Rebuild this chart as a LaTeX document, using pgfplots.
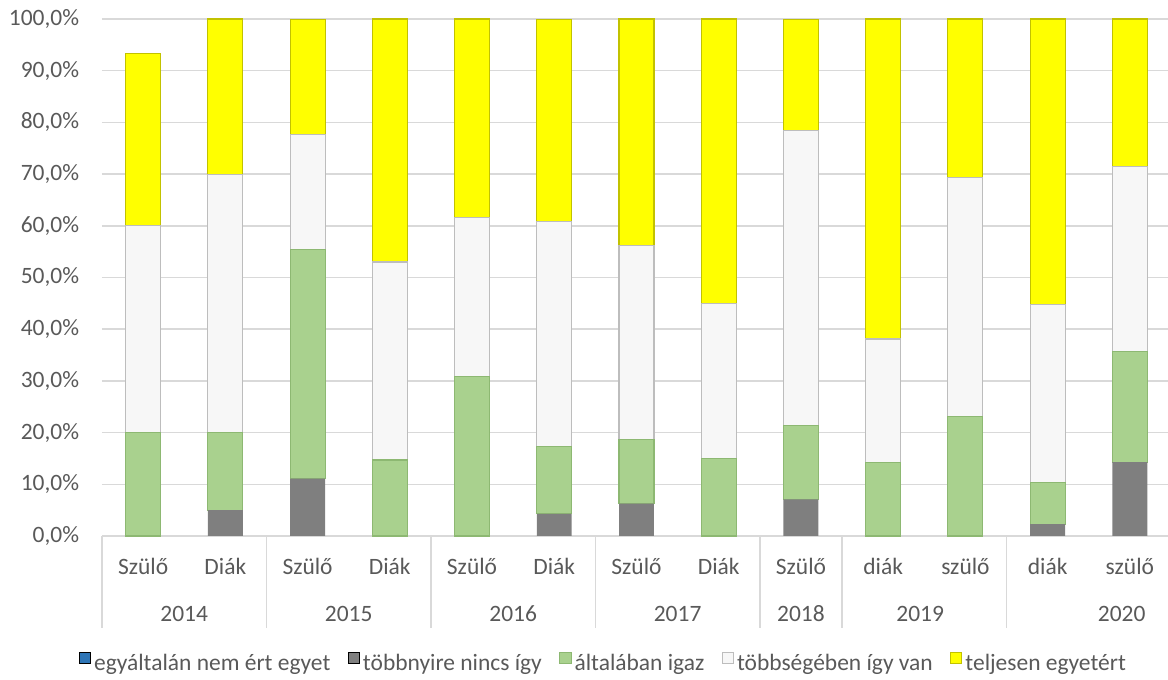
\documentclass[border=0pt]{standalone}
\usepackage{fontspec}
\setmainfont{Carlito}
\usepackage{pgfplots}
\pgfplotsset{compat=1.18}
\usepackage{pgfplotstable}

\definecolor{txt}{HTML}{595959}
\definecolor{gridc}{HTML}{D9D9D9}
\definecolor{cblue}{HTML}{2E75B6}
\definecolor{cgray}{HTML}{7F7F7F}
\definecolor{cgreen}{HTML}{A9D18E}
\definecolor{cgreenE}{HTML}{8DB872}
\definecolor{cwhite}{HTML}{F7F7F7}
\definecolor{cwhiteE}{HTML}{BDBDBD}
\definecolor{cyellow}{HTML}{FFFF00}
\definecolor{cyellowE}{HTML}{C2C200}

% shares in percent, bar position 0..12
\pgfplotstableread{
x  nem  nincs  altal  tobb  telj
0  0    0      20.0   40.0  33.3
1  0    5.0    15.0   50.0  30.0
2  0    11.1   44.4   22.2  22.2
3  0    0      14.7   38.3  47.0
4  0    0      30.8   30.8  38.4
5  0    4.3    13.0   43.5  39.1
6  0    6.25   12.5   37.5  43.75
7  0    0      15.0   30.0  55.0
8  0    7.1    14.3   57.1  21.4
9  0    0      14.3   23.8  61.9
10 0    0      23.1   46.2  30.7
11 0    2.3    8.0    34.5  55.2
12 0    14.3   21.4   35.7  28.6
}\data

\newcommand{\lblfont}{\fontsize{17.6}{21}\selectfont}

\begin{document}
\begin{tikzpicture}
\begin{axis}[
    scale only axis,
    width=801.75pt, height=387.75pt,
    xmin=-0.5, xmax=12.5,
    ymin=0, ymax=100,
    ybar stacked,
    bar width=0.425,
    clip=false,
    axis x line*=bottom,
    axis y line*=left,
    x axis line style={gridc, line width=1.1pt},
    y axis line style={draw=none},
    xtick={0,...,12},
    xticklabels={Szülő,Diák,Szülő,Diák,Szülő,Diák,Szülő,Diák,Szülő,diák,szülő,diák,szülő},
    ytick={0,10,...,100},
    yticklabels={{0,0\%},{10,0\%},{20,0\%},{30,0\%},{40,0\%},{50,0\%},{60,0\%},{70,0\%},{80,0\%},{90,0\%},{100,0\%}},
    major tick length=0pt,
    ymajorgrids,
    grid style={gridc, line width=1.1pt},
    tick label style={font=\lblfont, text=txt, inner sep=0pt},
    xticklabel style={anchor=base, yshift=-29.25pt},
    yticklabel style={anchor=east, xshift=-17pt},
    /pgf/number format/assume math mode=true,
    legend columns=-1,
    legend style={at={(0.468,-0.2437)}, anchor=center, draw=none, fill=none,
        font=\lblfont, text=txt, nodes={inner sep=0pt},
        /tikz/every odd column/.append style={column sep=2.5pt},
        /tikz/every even column/.append style={column sep=13pt}},
    legend image code/.code={\draw[#1, line width=0.5pt] (0pt,0pt) rectangle (8.5pt,8.5pt);},
]
\addplot[fill=cblue, draw=none] table[x=x, y=nem] {\data};
\addplot[fill=cgray, draw=none] table[x=x, y=nincs] {\data};
\addplot[fill=cgreen, draw=cgreenE, line width=0.8pt] table[x=x, y=altal] {\data};
\addplot[fill=cwhite, draw=cwhiteE, line width=0.8pt] table[x=x, y=tobb] {\data};
\addplot[fill=cyellow, draw=cyellowE, line width=0.8pt] table[x=x, y=telj] {\data};
\legend{egyáltalán nem ért egyet, többnyire nincs így, általában igaz, többségében így van, teljesen egyetért}

% group separators of the two-level category axis
\pgfplotsinvokeforeach{-0.5,1.5,3.5,5.5,7.5,8.5,10.5,12.5}{
    \draw[gridc, line width=1.1pt] (axis cs:#1,0) -- ++(0pt,-69pt);
}
\node[anchor=base, yshift=-64.5pt, font=\lblfont, text=txt] at (axis cs:0.5,0) {2014};
\node[anchor=base, yshift=-64.5pt, font=\lblfont, text=txt] at (axis cs:2.5,0) {2015};
\node[anchor=base, yshift=-64.5pt, font=\lblfont, text=txt] at (axis cs:4.5,0) {2016};
\node[anchor=base, yshift=-64.5pt, font=\lblfont, text=txt] at (axis cs:6.5,0) {2017};
\node[anchor=base, yshift=-64.5pt, font=\lblfont, text=txt] at (axis cs:8,0) {2018};
\node[anchor=base, yshift=-64.5pt, font=\lblfont, text=txt] at (axis cs:9.45,0) {2019};
\node[anchor=base, yshift=-64.5pt, font=\lblfont, text=txt] at (axis cs:11.9,0) {2020};
\end{axis}
\pgfresetboundingbox
\useasboundingbox (-76.5pt,-108pt) rectangle (799.5pt,402pt);
\end{tikzpicture}
\end{document}
